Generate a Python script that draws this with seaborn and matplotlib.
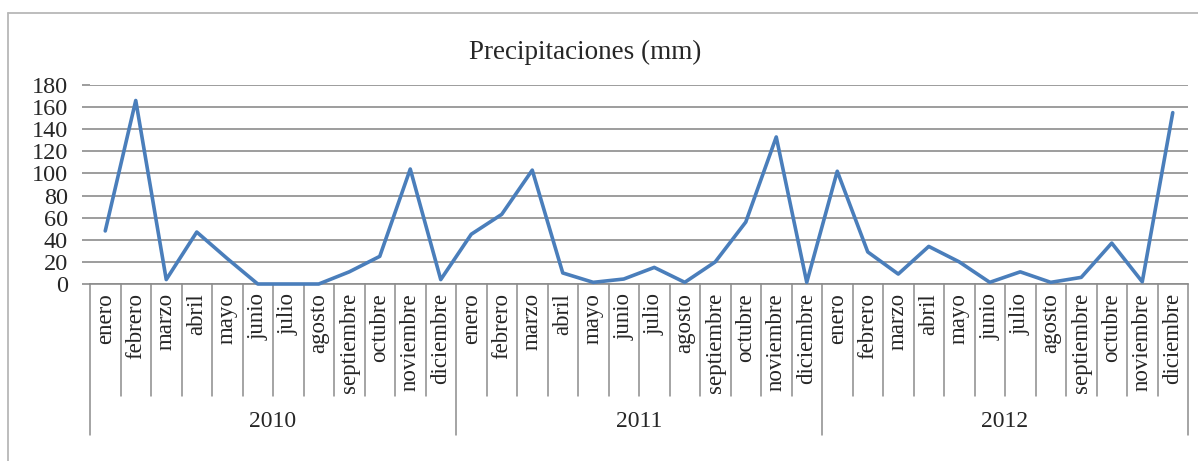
import matplotlib
matplotlib.use('Agg')
import matplotlib.pyplot as plt
from matplotlib.lines import Line2D
import seaborn as sns
import pandas as pd

sns.set_style('white')
plt.rcParams['font.family'] = ['Liberation Serif', 'DejaVu Serif']

months = ['enero', 'febrero', 'marzo', 'abril', 'mayo', 'junio', 'julio',
          'agosto', 'septiembre', 'octubre', 'noviembre', 'diciembre']
years = ['2010', '2011', '2012']
rain_2010 = [48, 166, 4, 47, 23, 0, 0, 0, 11, 25, 104, 4]
rain_2011 = [45, 63, 103, 10, 1.5, 4.5, 15, 1.5, 20, 56, 133, 1.5]
rain_2012 = [102, 29, 9, 34, 20, 1.5, 11, 1.5, 6, 37, 2, 155]
y_ticks = [0, 20, 40, 60, 80, 100, 120, 140, 160, 180]

values = rain_2010 + rain_2011 + rain_2012
df = pd.DataFrame({'pos': range(len(values)), 'mm': values,
                   'mes': months * len(years)})

W, H = 1198, 461
fig = plt.figure(figsize=(W / 100, H / 100), dpi=100)
x0, x1, ytop, ybot = 90, 1188, 85, 284
ax = fig.add_axes([x0 / W, 1 - ybot / H, (x1 - x0) / W, (ybot - ytop) / H])

grid_col = '#8c8c8c'
sns.lineplot(data=df, x='pos', y='mm', ax=ax, color='#4a7ebb', lw=2.6,
             clip_on=False, zorder=5)

ax.set_xlim(-0.5, len(values) - 0.5)
ax.set_ylim(0, 180)
ax.set_yticks(y_ticks)
ax.set_yticklabels([str(t) for t in y_ticks], fontsize=17.5)
ax.yaxis.grid(True, color=grid_col, lw=1.2)
ax.set_axisbelow(True)
ax.tick_params(axis='y', length=6, width=1.2, color=grid_col, pad=10,
               left=True, direction='out')
ax.set_xticks([])
ax.set_xlabel('')
ax.set_ylabel('')
for s in ['top', 'right', 'left']:
    ax.spines[s].set_visible(False)
ax.spines['bottom'].set_color(grid_col)
ax.spines['bottom'].set_linewidth(1.2)

# category dividers below the axis
trans = ax.get_xaxis_transform()
h = ybot - ytop
month_end = -(396 - ybot) / h
year_end = -(435 - ybot) / h
for k in range(len(values) + 1):
    low = year_end if k % 12 == 0 else month_end
    ax.plot([k - 0.5, k - 0.5], [0, low], transform=trans, color=grid_col,
            lw=1.1, clip_on=False)

for i, m in enumerate(df['mes']):
    ax.text(i, -(293 - ybot) / h, m, transform=trans, rotation=90,
            ha='center', va='top', fontsize=16.5)
for j, yr in enumerate(years):
    ax.text(j * 12 + 5.5, -(421 - ybot) / h, yr, transform=trans,
            ha='center', va='center', fontsize=17)

fig.text(585 / W, 1 - 52 / H, 'Precipitaciones (mm)', ha='center',
         va='center', fontsize=19.5)

# outer chart frame (left and top edges visible)
fig.add_artist(Line2D([8 / W, 8 / W], [0, 1 - 13 / H], color='#b8b8b8',
                      lw=1.3, transform=fig.transFigure))
fig.add_artist(Line2D([8 / W, 1], [1 - 13 / H, 1 - 13 / H], color='#b8b8b8',
                      lw=1.3, transform=fig.transFigure))

fig.savefig('out.png', dpi=100, facecolor='white')
